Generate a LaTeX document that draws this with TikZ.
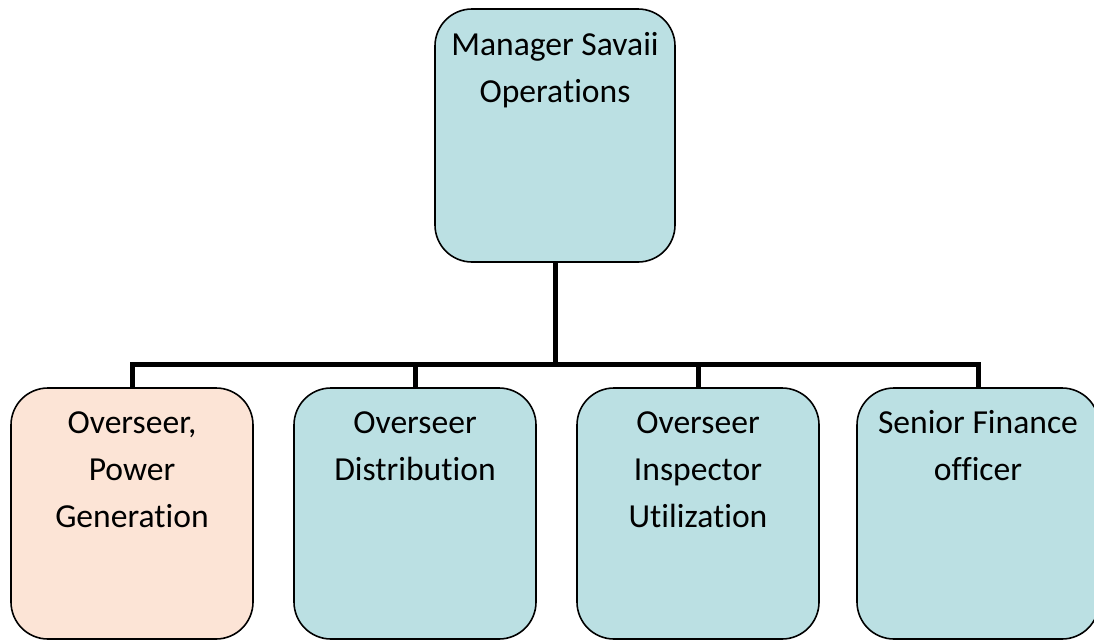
\documentclass[tikz,border=0pt]{standalone}
\usepackage{fontspec}
\setmainfont{Carlito}[RawFeature={-liga;-clig;-dlig}]
\definecolor{boxblue}{HTML}{BBE0E3}
\definecolor{boxpeach}{HTML}{FCE4D6}
\newcommand{\firststrut}{\rule{0pt}{24pt}}
\begin{document}
\begin{tikzpicture}[x=1pt,y=-1pt,
  orgbox/.style={draw=black,line width=1.6pt,rounded corners=37pt,fill=boxblue},
  peachbox/.style={orgbox,fill=boxpeach},
  boxtext/.style={anchor=north,inner sep=0pt,align=center,font=\fontsize{33.6}{47}\selectfont},
  link/.style={line width=5pt,draw=black}]
\useasboundingbox (0,0) rectangle (1094,640);
\clip (0,0) rectangle (1094,640);
% boxes
\node[orgbox,minimum width=240pt,minimum height=253pt,inner sep=0pt] (top) at (555,135.5) {};
\node[peachbox,minimum width=242pt,minimum height=251pt,inner sep=0pt] (b1) at (132,513.5) {};
\node[orgbox,minimum width=242pt,minimum height=251pt,inner sep=0pt] (b2) at (415,513.5) {};
\node[orgbox,minimum width=242pt,minimum height=251pt,inner sep=0pt] (b3) at (698,513.5) {};
\node[orgbox,minimum width=242pt,minimum height=251pt,inner sep=0pt] (b4) at (978,513.5) {};
% texts
\node[boxtext] (ttop) at ([yshift=-23pt]top.north) {\firststrut Manager Savaii\\Operations};
\node[boxtext] (t1) at ([yshift=-22pt]b1.north) {\firststrut Overseer,\\Power\\Generation};
\node[boxtext] (t2) at ([yshift=-22pt]b2.north) {\firststrut Overseer\\Distribution};
\node[boxtext] (t3) at ([yshift=-22pt]b3.north) {\firststrut Overseer\\Inspector\\Utilization};
\node[boxtext] (t4) at ([yshift=-22pt]b4.north) {\firststrut Senior Finance\\officer};
% connectors
\coordinate (bus) at (555,364);
\draw[link] (top.south) -- (bus);
\draw[link] (b1.north) -- (b1.north |- bus) -- (b4.north |- bus) -- (b4.north);
\draw[link] (b2.north |- bus) -- (b2.north);
\draw[link] (b3.north |- bus) -- (b3.north);
\end{tikzpicture}
\end{document}
